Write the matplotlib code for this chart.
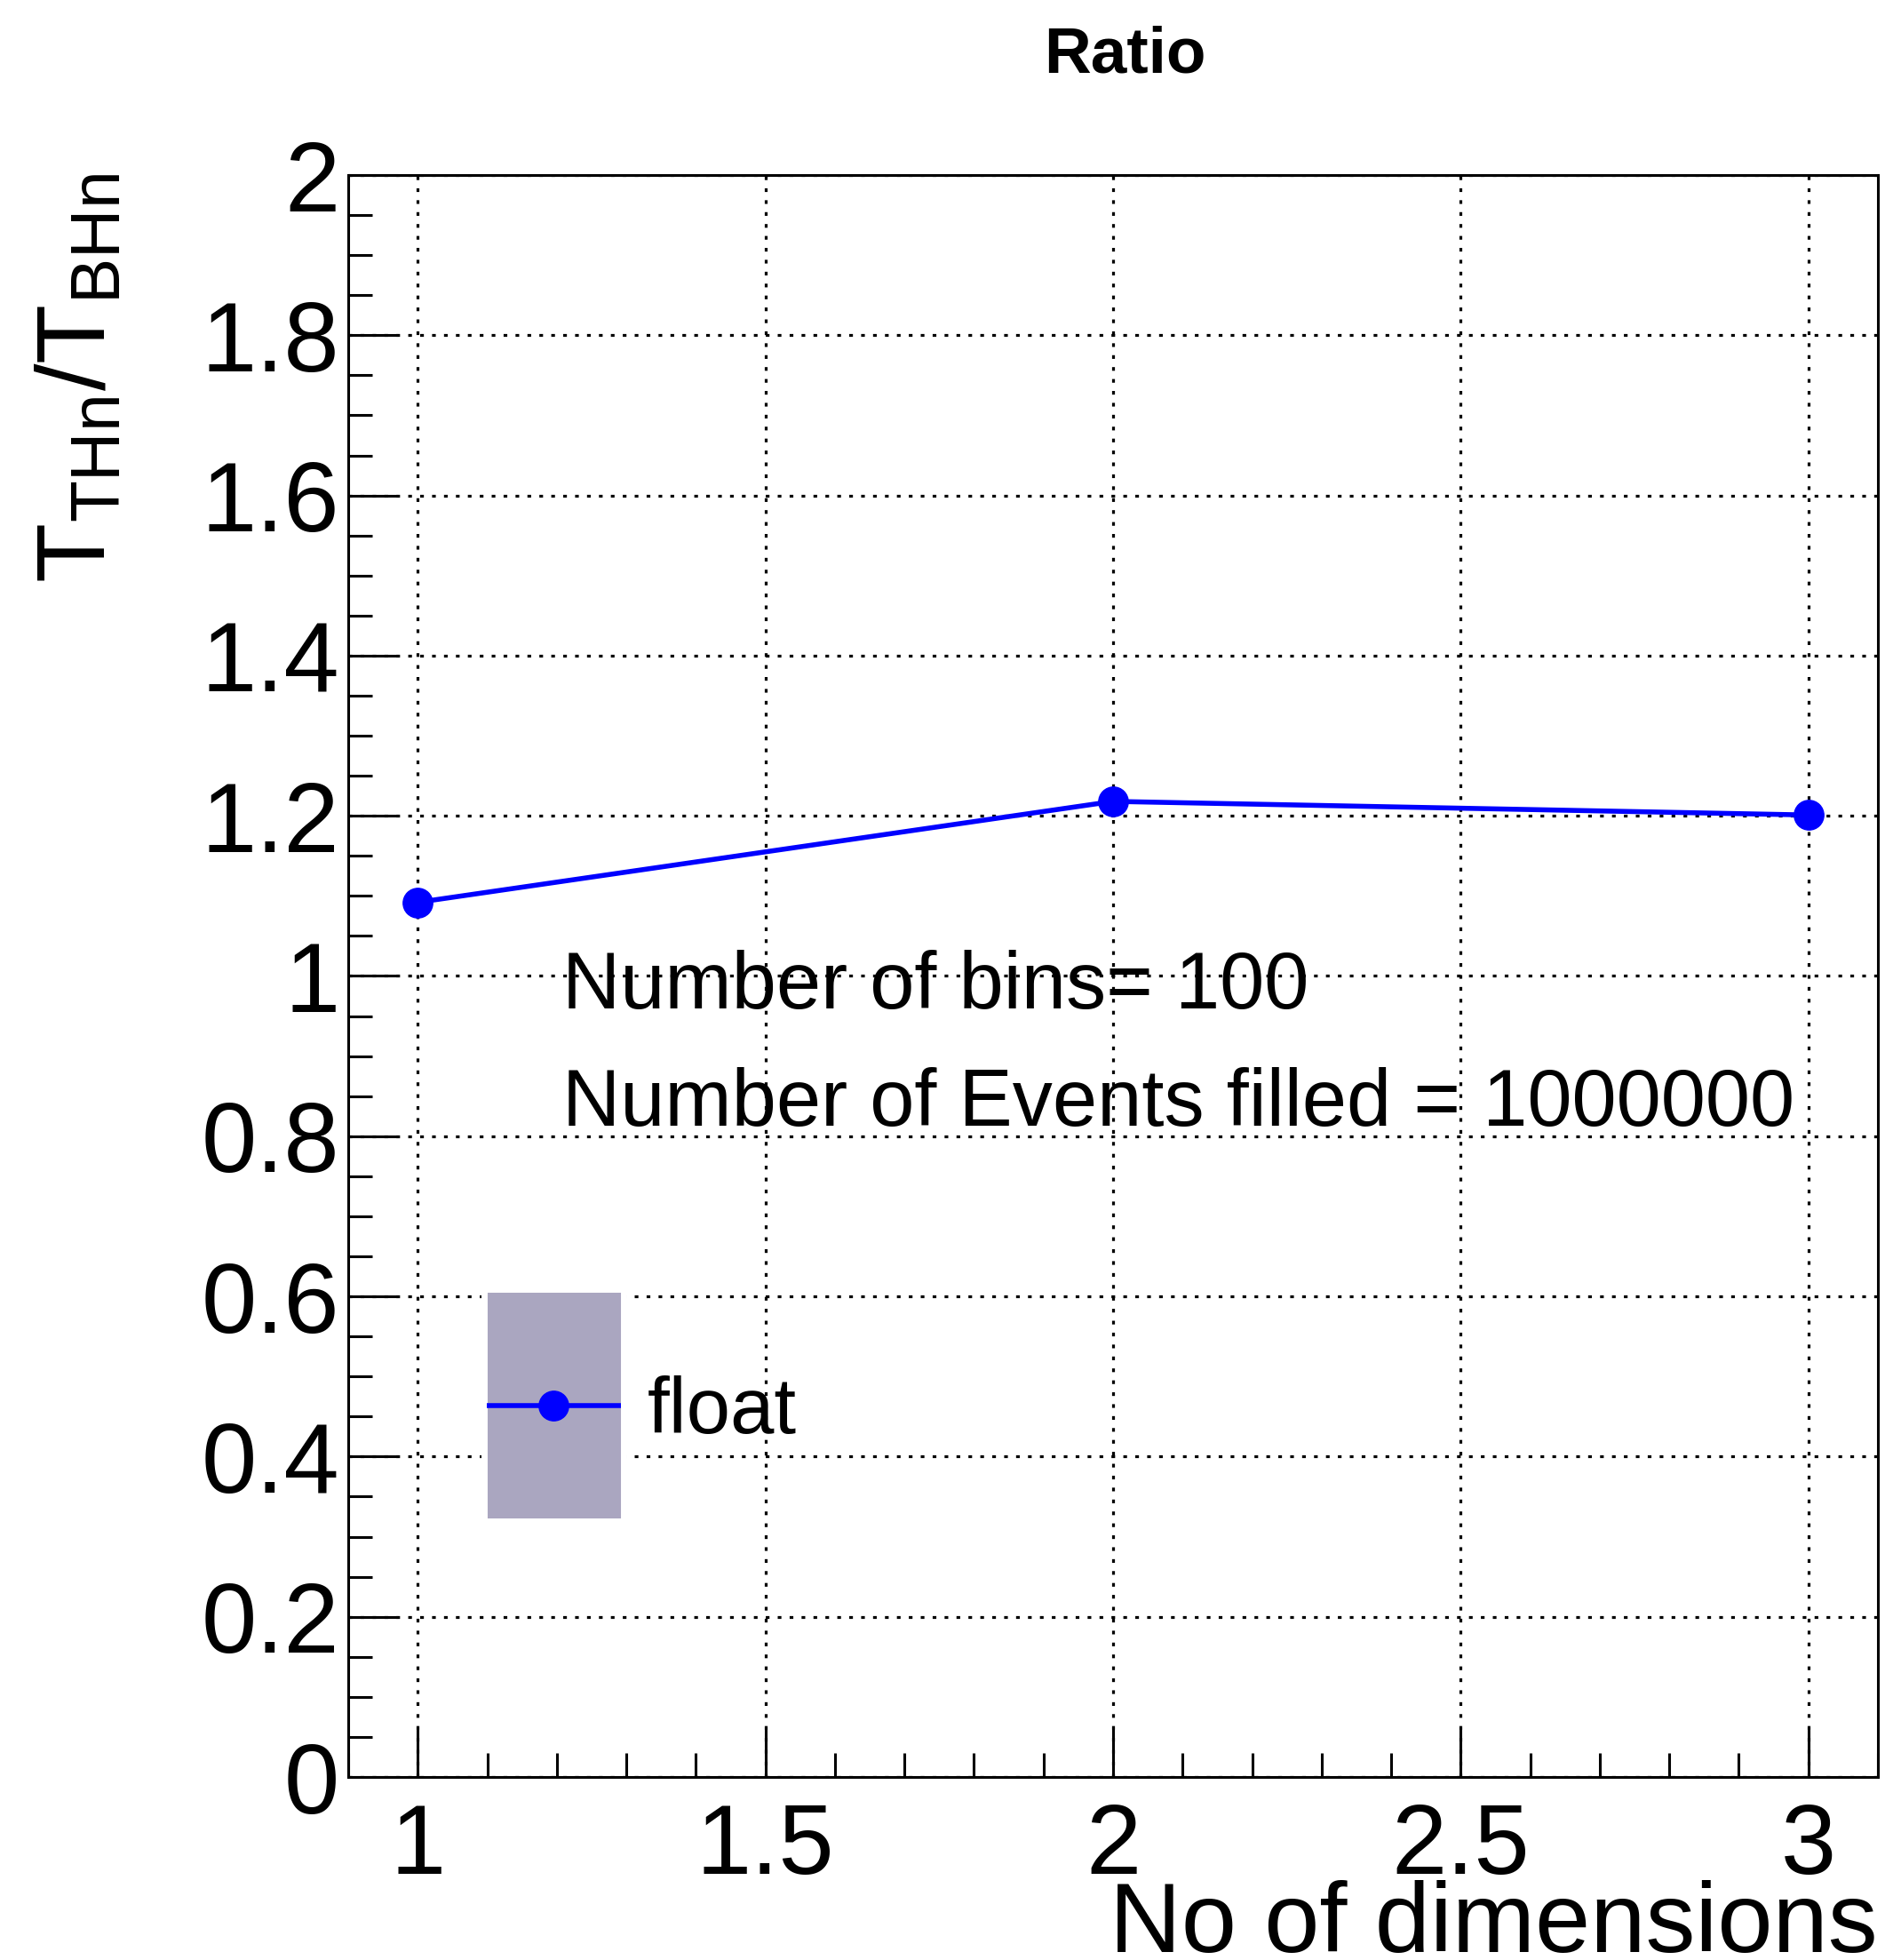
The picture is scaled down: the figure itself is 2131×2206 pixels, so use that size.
import matplotlib
matplotlib.use('Agg')
import matplotlib.pyplot as plt
from matplotlib.patches import Rectangle
from matplotlib.lines import Line2D
from matplotlib.ticker import MultipleLocator, FuncFormatter

plt.rcParams['font.family'] = 'Liberation Sans'
plt.rcParams['mathtext.fontset'] = 'custom'
plt.rcParams['mathtext.rm'] = 'Liberation Sans'
plt.rcParams['mathtext.it'] = 'Liberation Sans'
plt.rcParams['mathtext.bf'] = 'Liberation Sans:bold'

# data
dims = [1, 2, 3]
ratio = [1.092, 1.218, 1.201]
n_bins = 100
n_events = 1000000
series_name = 'float'

BLUE = '#0000ff'
FILL = '#aaa6c0'


class BoxLineHandler:
    # ROOT style legend entry: filled box with the line and marker through its middle
    def legend_artist(self, legend, orig_handle, fontsize, handlebox):
        xd = handlebox.xdescent
        w = handlebox.width
        yc = 0.35 * fontsize
        bh = 2.936 * fontsize
        edge = 5
        rect = Rectangle((-xd, yc - bh / 2), w, bh, facecolor=FILL, edgecolor='white', lw=edge)
        ln = Line2D([-xd + edge / 2, w - xd - edge / 2], [yc, yc], color=BLUE, lw=4,
                    solid_capstyle='butt')
        mk = Line2D([w / 2 - xd], [yc], color=BLUE, marker='o', ms=24, ls='none')
        for a in (rect, ln, mk):
            handlebox.add_artist(a)
        return rect


W, H = 2131, 2206
fig = plt.figure(figsize=(W / 100, H / 100), dpi=100)
# axes box in pixels: left 392, right 2114, top 197, bottom 2000
ax = fig.add_axes([392 / W, 1 - 2000 / H, (2114 - 392) / W, (2000 - 197) / H])

line, = ax.plot(dims, ratio, color=BLUE, lw=4, marker='o', ms=24, zorder=3)

ax.set_xlim(0.9, 3.1)
ax.set_ylim(0, 2)
ax.xaxis.set_major_locator(MultipleLocator(0.5))
ax.xaxis.set_minor_locator(MultipleLocator(0.1))
ax.yaxis.set_major_locator(MultipleLocator(0.2))
ax.yaxis.set_minor_locator(MultipleLocator(0.05))
fmt = FuncFormatter(lambda v, p: '%g' % round(v, 3))
ax.xaxis.set_major_formatter(fmt)
ax.yaxis.set_major_formatter(fmt)

ax.grid(True, which='major', color='black', linewidth=2.3, linestyle=(0, (1.3, 2.9)))
ax.tick_params(which='both', direction='in', top=False, right=False, width=2.2)
ax.tick_params(which='major', length=40, labelsize=80.6)
ax.tick_params(which='minor', length=19.5)
ax.tick_params(axis='y', pad=7)
ax.tick_params(axis='x', pad=20)
for s in ax.spines.values():
    s.set_linewidth(2.2)

# titles
ax.set_title('Ratio', fontsize=52.6, fontweight='bold', x=0.5075, y=1.0638, pad=0)
ax.set_xlabel('No of dimensions', fontsize=80.6)
ax.xaxis.set_label_coords(1.0, -0.1093)
ax.xaxis.label.set_ha('right')
ax.xaxis.label.set_va('baseline')
fig.text(40 / W, 1 - 195 / H, r'$\mathregular{T_{THn}/T_{BHn}}$', fontsize=79,
         rotation=90, ha='left', va='top')

# text
ax.text(0.140, 0.4798, 'Number of bins= %d' % n_bins, fontsize=65, transform=ax.transAxes)
ax.text(0.140, 0.4065, 'Number of Events filled = %d' % n_events, fontsize=65,
        transform=ax.transAxes)

# legend
leg = ax.legend([line], [series_name], handler_map={line: BoxLineHandler()},
                fontsize=64, frameon=False, borderpad=0, borderaxespad=0,
                handlelength=1.777, handleheight=0.7, handletextpad=0.3,
                loc='lower left', bbox_to_anchor=(544.5 / W, 1 - 1632 / H),
                bbox_transform=fig.transFigure)

fig.savefig('out.png', dpi=100)
